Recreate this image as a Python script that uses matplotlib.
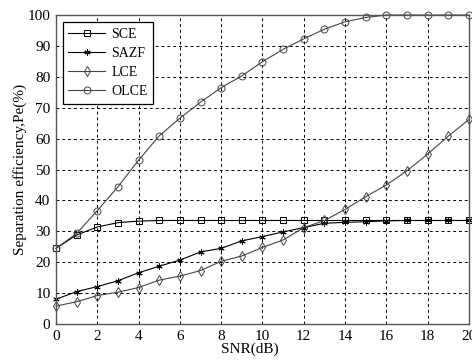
import matplotlib
matplotlib.use("Agg")
import matplotlib.pyplot as plt

plt.rcParams["font.family"] = ["Liberation Serif", "DejaVu Serif"]

snr = list(range(0, 21))

sce = [24.5, 28.8, 31.4, 32.8, 33.3, 33.5, 33.5, 33.5, 33.5, 33.5, 33.5,
       33.5, 33.5, 33.5, 33.5, 33.5, 33.5, 33.5, 33.5, 33.5, 33.5]
sazf = [8.0, 10.5, 12.1, 14.0, 16.6, 18.7, 20.7, 23.3, 24.5, 26.9, 28.3,
        29.8, 31.2, 32.6, 32.9, 33.1, 33.4, 33.5, 33.5, 33.5, 33.5]
lce = [5.8, 7.2, 9.2, 10.3, 11.8, 14.2, 15.5, 17.3, 20.3, 22.0, 24.8,
       27.2, 31.2, 33.5, 37.1, 41.2, 45.0, 49.6, 55.0, 60.8, 66.2]
olce = [24.5, 29.3, 36.7, 44.4, 53.0, 60.9, 66.6, 71.8, 76.5, 80.3, 84.9,
        88.9, 92.3, 95.4, 97.8, 99.2, 100, 100, 100, 100, 100]

fig = plt.figure(figsize=(4.72, 3.6), dpi=100)
ax = fig.add_axes([0.1186, 0.1, 0.875, 0.8583])

mk = dict(markerfacecolor="none", markersize=5, markeredgewidth=0.7,
          linewidth=0.8, clip_on=False)
ax.plot(snr, sce, color="black", marker="s", label="SCE", **mk)
ax.plot(snr, sazf, color="black", marker=(6, 2, 0), label="SAZF",
        **{**mk, "markersize": 4.5})
ax.plot(snr, lce, color="#444444", marker="d", label="LCE", **mk)
ax.plot(snr, olce, color="#444444", marker="o", label="OLCE", **mk)

ax.set_xlim(0, 20)
ax.set_ylim(0, 100)
ax.set_xticks(range(0, 21, 2))
ax.set_yticks(range(0, 101, 10))
ax.tick_params(labelsize=11, length=0, pad=4)
ax.grid(True, color="black", linestyle=(0, (3, 3)), linewidth=0.7)
for s in ax.spines.values():
    s.set_color("#555555")
    s.set_linewidth(1.0)

ax.set_xlabel("SNR(dB)", fontsize=11)
ax.xaxis.set_label_coords(0.47, -0.06)
ax.set_ylabel("Separation efficiency,Pe(%)", fontsize=11)
ax.yaxis.set_label_coords(-0.07, 0.5)

leg = ax.legend(loc="upper left", fontsize=10, fancybox=False,
                framealpha=1, edgecolor="black", handlelength=2.6,
                handletextpad=0.5, borderaxespad=0.5, labelspacing=0.45,
                borderpad=0.4)
leg.get_frame().set_linewidth(0.9)

fig.savefig("out.png", dpi=100)
